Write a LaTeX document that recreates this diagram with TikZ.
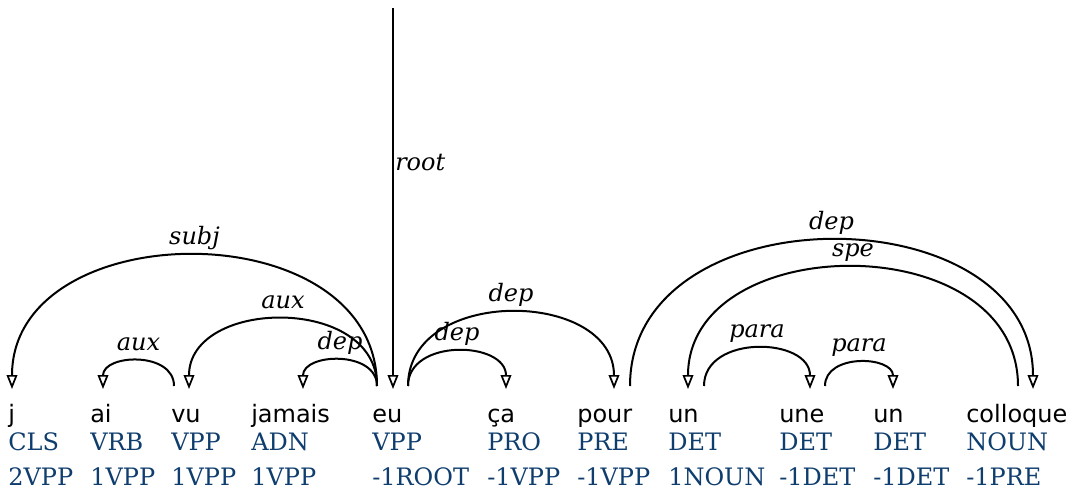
\documentclass[tikz,border=0pt]{standalone}
\usepackage{fontspec}
\setmainfont{DejaVu Serif}
\setsansfont{DejaVu Sans}
\usetikzlibrary{arrows.meta}
\definecolor{tagblue}{RGB}{15,62,110}
\begin{document}
\begin{tikzpicture}[x=0.75pt,y=-0.75pt,
  word/.style={anchor=base west,inner sep=0pt,font=\sffamily\fontsize{18}{20}\selectfont},
  tag/.style={anchor=base west,inner sep=0pt,text=tagblue,font=\fontsize{18}{20}\selectfont},
  rel/.style={anchor=base,inner sep=0pt,font=\itshape\fontsize{18}{20}\selectfont},
  deparc/.style={draw=black,line width=1.5pt,-{Triangle[open,length=10.5pt,width=8pt,line width=1.3pt]}}
]
\useasboundingbox (0,0) rectangle (1078,489);
% words
\node[word] (w1) at (8,422) {j};
\node[word] (w2) at (90,422) {ai};
\node[word] (w3) at (171,422) {vu};
\node[word] (w4) at (251,422) {jamais};
\node[word] (w5) at (372,422) {eu};
\node[word] (w6) at (487,422) {ça};
\node[word] (w7) at (577,422) {pour};
\node[word] (w8) at (668,422) {un};
\node[word] (w9) at (779,422) {une};
\node[word] (w10) at (873,422) {un};
\node[word] (w11) at (966,422) {colloque};
% tags
\node[tag] (t1) at (8,450) {CLS};
\node[tag] (t2) at (90,450) {VRB};
\node[tag] (t3) at (171,450) {VPP};
\node[tag] (t4) at (251,450) {ADN};
\node[tag] (t5) at (372,450) {VPP};
\node[tag] (t6) at (487,450) {PRO};
\node[tag] (t7) at (577,450) {PRE};
\node[tag] (t8) at (668,450) {DET};
\node[tag] (t9) at (779,450) {DET};
\node[tag] (t10) at (873,450) {DET};
\node[tag] (t11) at (966,450) {NOUN};
% relative positions
\node[tag] (p1) at (8,485) {2VPP};
\node[tag] (p2) at (90,485) {1VPP};
\node[tag] (p3) at (171,485) {1VPP};
\node[tag] (p4) at (251,485) {1VPP};
\node[tag] (p5) at (372,485) {-1ROOT};
\node[tag] (p6) at (487,485) {-1VPP};
\node[tag] (p7) at (577,485) {-1VPP};
\node[tag] (p8) at (668,485) {1NOUN};
\node[tag] (p9) at (779,485) {-1DET};
\node[tag] (p10) at (873,485) {-1DET};
\node[tag] (p11) at (966,485) {-1PRE};
% arc end points
\coordinate (jin) at (12,389);
\coordinate (aiin) at (103,389);
\coordinate (vuout) at (174,386);
\coordinate (vuin) at (189,389);
\coordinate (jamin) at (303,389);
\coordinate (euout) at (377,386);
\coordinate (euin) at (393,389);
\coordinate (euoutb) at (408,386);
\coordinate (cain) at (506,389);
\coordinate (pourin) at (614,389);
\coordinate (pourout) at (630,386);
\coordinate (unin) at (688,389);
\coordinate (unout) at (704,386);
\coordinate (unein) at (810,389);
\coordinate (uneout) at (825,386);
\coordinate (untin) at (893,389);
\coordinate (colout) at (1018,386);
\coordinate (colin) at (1033,389);
\coordinate (roottop) at (393,8);
% root
\draw[deparc] (roottop) -- (euin);
\node[rel,anchor=base west] (lroot) at (395,170) {root};
% arcs
\draw[deparc] (euout) .. controls +(0,-176) and +(0,-176) .. (jin)
  node[rel,pos=0.5,yshift=8.25pt] (lsubj) {subj};
\draw[deparc] (vuout) .. controls +(0,-35) and +(0,-35) .. (aiin)
  node[rel,pos=0.5,yshift=8.25pt] (laux1) {aux};
\draw[deparc] (euout) .. controls +(0,-91) and +(0,-91) .. (vuin)
  node[rel,pos=0.5,yshift=8.25pt] (laux2) {aux};
\draw[deparc] (euout) .. controls +(0,-36) and +(0,-36) .. (jamin)
  node[rel,pos=0.5,yshift=8.25pt] (ldep1) {dep};
\draw[deparc] (euoutb) .. controls +(0,-48) and +(0,-48) .. (cain)
  node[rel,pos=0.5,yshift=8.25pt] (ldep2) {dep};
\draw[deparc] (euoutb) .. controls +(0,-100) and +(0,-100) .. (pourin)
  node[rel,pos=0.5,yshift=8.25pt] (ldep3) {dep};
\draw[deparc] (pourout) .. controls +(0,-196) and +(0,-196) .. (colin)
  node[rel,pos=0.5,yshift=8.25pt] (ldep4) {dep};
\draw[deparc] (colout) .. controls +(0,-160) and +(0,-160) .. (unin)
  node[rel,pos=0.5,yshift=8.25pt] (lspe) {spe};
\draw[deparc] (unout) .. controls +(0,-52) and +(0,-52) .. (unein)
  node[rel,pos=0.5,yshift=8.25pt] (lpara1) {para};
\draw[deparc] (uneout) .. controls +(0,-33) and +(0,-33) .. (untin)
  node[rel,pos=0.5,yshift=8.25pt] (lpara2) {para};
\end{tikzpicture}
\end{document}
